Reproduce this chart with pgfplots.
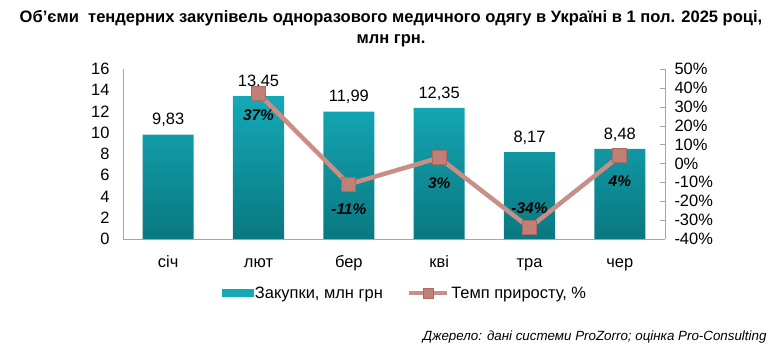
\documentclass[border=0pt]{standalone}
\usepackage{pgfplots}
\pgfplotsset{compat=1.18}
\usepackage{pgfplotstable}
\usepackage{fontspec}
\setmainfont{Liberation Sans}

\definecolor{barTop}{HTML}{14A9B7}
\definecolor{barBot}{HTML}{0A7880}
\definecolor{lineC}{HTML}{C98E86}
\definecolor{markC}{HTML}{C27F76}
\definecolor{markB}{HTML}{A96A62}
\definecolor{axisC}{HTML}{A6A6A6}

\pgfplotsset{mylinelegend/.style={legend image code/.code={\draw[mark repeat=2,mark phase=2,##1, mark size=5bp] plot coordinates {(0bp,0bp)(19bp,0bp)(38bp,0bp)};}}}

\pgfplotstableread{
x y
0 9.83
1 13.45
2 11.99
3 12.35
4 8.17
5 8.48
}\bars
\pgfplotstableread{
x y lab off
1 37 37 -22
2 -11 -11 -25
3 3 3 -25
4 -34 -34 20
5 4 4 -25
}\growth

\newcommand{\tf}{\fontsize{16.5}{19}\selectfont}

\begin{document}
\begin{tikzpicture}
\useasboundingbox (0,0) rectangle (782bp,353bp);
\begin{axis}[
  at={(123bp,114bp)}, anchor=south west, scale only axis,
  width=542bp, height=170bp,
  xmin=-0.5, xmax=5.5, ymin=0, ymax=16,
  ytick={0,2,...,16},
  xtick={0,...,5}, xticklabels={січ,лют,бер,кві,тра,чер},
  axis x line*=bottom, axis y line*=left,
  axis line style={axisC,-},
  major tick length=0pt,
  tick label style={font=\tf, text=black},
  /pgf/number format/assume math mode=true,
  /pgf/number format/use comma,
  yticklabel style={xshift=-10bp},
  xticklabel style={yshift=-13bp, text height=12bp, text depth=3bp},
]
\addplot[ybar, bar width=0.565, draw=none, top color=barTop, bottom color=barBot,
  nodes near coords={\pgfmathprintnumber[fixed,fixed zerofill,precision=2,use comma]{\pgfplotspointmeta}},
  nodes near coords style={font=\tf, text=black, yshift=4bp}]
  table[x=x,y=y]{\bars};
\end{axis}
\begin{axis}[
  at={(123bp,114bp)}, anchor=south west, scale only axis,
  width=542bp, height=170bp,
  xmin=-0.5, xmax=5.5, ymin=-40, ymax=50,
  ytick={-40,-30,...,50},
  axis y line*=right, axis x line=none,
  axis line style={axisC,-},
  ytick style={axisC},
  major tick length=5bp, tick align=inside,
  tick label style={font=\tf, text=black},
  yticklabel={\pgfmathprintnumber{\tick}\%},
  /pgf/number format/assume math mode=true,
  yticklabel style={xshift=6bp},
  clip=false,
  legend columns=2,
  legend style={draw=none, fill=none, font=\tf, at={(0.52,-0.318)}, anchor=center,
    /tikz/every even column/.append style={column sep=22bp}},
]
\addlegendimage{legend image code/.code={\fill[barTop] (0bp,-3.5bp) rectangle (31bp,3.5bp);}}
\addlegendentry{Закупки, млн грн}
\addplot[lineC, line width=4.5bp, mark=square*, mark size=7bp,
  mark options={fill=markC, draw=markB, line width=0.8bp},
  point meta=explicit symbolic,
  visualization depends on={\thisrow{off}\as\myoff},
  nodes near coords={\pgfplotspointmeta\%},
  nodes near coords style={font=\fontsize{15.5}{18}\selectfont\bfseries\itshape, text=black, anchor=center, yshift=\myoff pt},
  mylinelegend]
  table[x=x,y=y,meta=lab]{\growth};
\addlegendentry{Темп приросту, \%}
\end{axis}
\node[font=\bfseries\fontsize{16.6}{21}\selectfont, align=center] at (391bp,324bp)
  {Об’єми\ \ тендерних закупівель одноразового медичного одягу в Україні в 1 пол. 2025 році,\\млн грн.};
\node[anchor=east, font=\itshape\fontsize{13.4}{15}\selectfont] at (770bp,16bp)
  {Джерело: дані системи ProZorro; оцінка Pro-Consulting};
\end{tikzpicture}
\end{document}
